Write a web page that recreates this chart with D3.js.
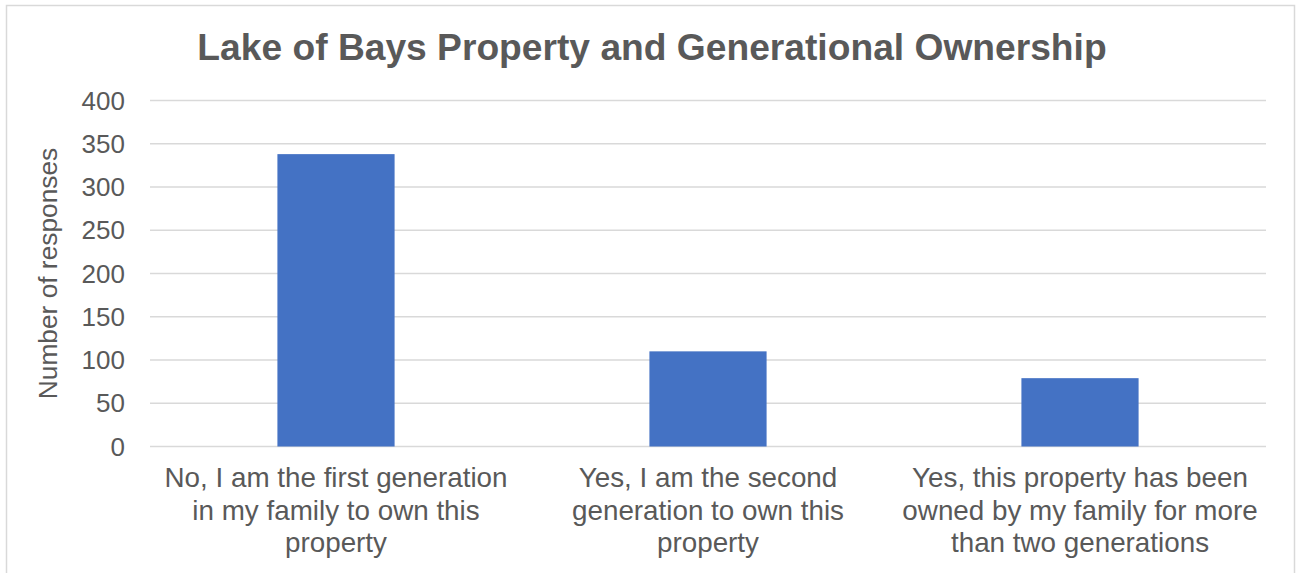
<!DOCTYPE html>
<html>
<head>
<meta charset="utf-8">
<script src="https://cdn.jsdelivr.net/npm/d3@7"></script>
<style>
body { margin: 0; background: #fff; }
text { font-family: "Liberation Sans", Arial, sans-serif; fill: #595959; }
</style>
</head>
<body>
<script>
var width = 1297
var height = 573

// data
var categories = [
  "No, I am the first generation|in my family to own this|property",
  "Yes, I am the second|generation to own this|property",
  "Yes, this property has been|owned by my family for more|than two generations"
]
var responses = [338, 110, 79]
var y_ticks = [0, 50, 100, 150, 200, 250, 300, 350, 400]

var plot_left = 150
var plot_right = 1266
var plot_top = 100.5
var plot_bottom = 446.5

var svg = d3.select("body").append("svg")
.attr("width", width)
.attr("height", height)

// chart border (runs off the bottom of the picture)
svg.append("rect")
.attr("x", 6.5)
.attr("y", 5.5)
.attr("width", 1288)
.attr("height", 600)
.attr("fill", "none")
.attr("stroke", "#d9d9d9")
.attr("stroke-width", 1.5)

var x = d3.scaleBand()
.domain(categories)
.range([plot_left, plot_right])
.paddingInner(0.685)
.paddingOuter(0.3425)

var y = d3.scaleLinear()
.domain([0, 400])
.range([plot_bottom, plot_top])

// gridlines
svg.append("g")
.selectAll("line")
.data(y_ticks)
.enter().append("line")
.attr("x1", plot_left)
.attr("x2", plot_right)
.attr("y1", function(d) { return y(d) })
.attr("y2", function(d) { return y(d) })
.attr("stroke", "#d9d9d9")
.attr("stroke-width", 1.5)

// y tick labels
svg.append("g")
.selectAll("text")
.data(y_ticks)
.enter().append("text")
.attr("x", 125)
.attr("y", function(d) { return y(d) })
.attr("dy", "0.35em")
.style("text-anchor", "end")
.style("font-size", "26px")
.text(function(d) { return d })

// bars
svg.append("g")
.selectAll("rect")
.data(responses)
.enter().append("rect")
.attr("x", function(d, i) { return x(categories[i]) })
.attr("y", function(d) { return y(d) })
.attr("width", x.bandwidth())
.attr("height", function(d) { return y(0) - y(d) })
.attr("fill", "#4472c4")

// category labels
var cat = svg.append("g")
.selectAll("text")
.data(categories)
.enter().append("text")
.attr("x", function(d) { return x(d) + x.bandwidth() / 2 })
.attr("y", 487)
.style("text-anchor", "middle")
.style("font-size", "27.8px")

cat.selectAll("tspan")
.data(function(d) { return d.split("|").map(function(s) { return { s: s, cx: x(d) + x.bandwidth() / 2 } }) })
.enter().append("tspan")
.attr("x", function(d) { return d.cx })
.attr("dy", function(d, i) { return i == 0 ? 0 : 32.6 })
.text(function(d) { return d.s })

// axis title
svg.append("text")
.attr("transform", "translate(57," + (plot_top + plot_bottom) / 2 + ") rotate(-90)")
.style("text-anchor", "middle")
.style("font-size", "26.3px")
.text("Number of responses")

// chart title
svg.append("text")
.attr("x", 652)
.attr("y", 59.5)
.style("text-anchor", "middle")
.style("font-size", "37.2px")
.style("font-weight", "bold")
.text("Lake of Bays Property and Generational Ownership")
</script>
</body>
</html>
